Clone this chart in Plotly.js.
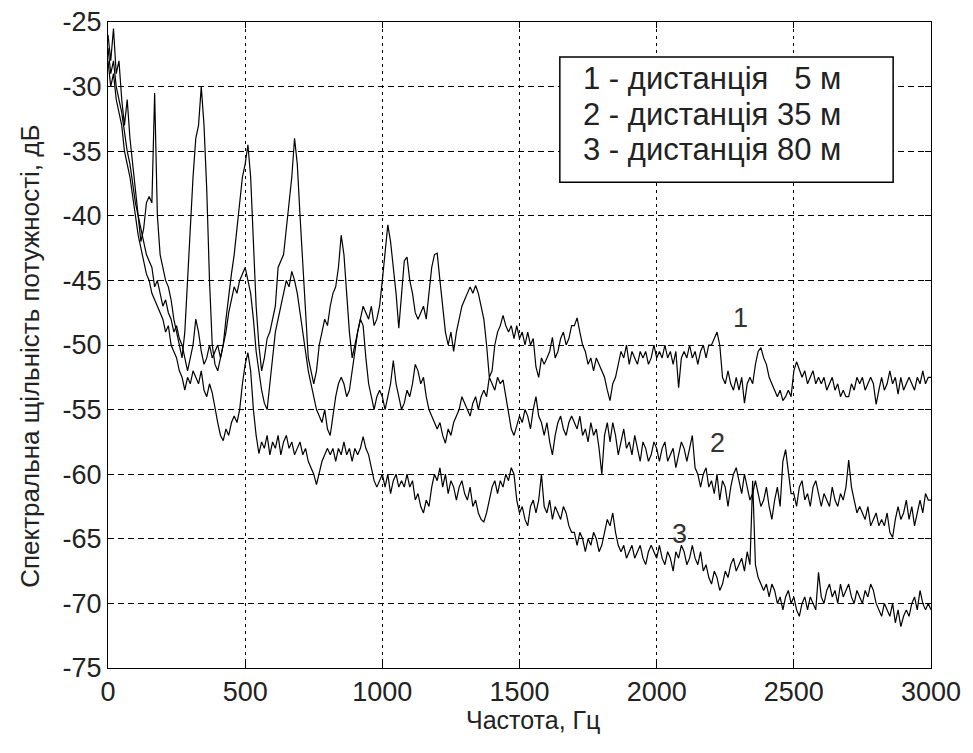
<!DOCTYPE html>
<html>
<head>
<meta charset="utf-8">
<script src="https://cdn.plot.ly/plotly-3.0.1.min.js"></script>
<style>html,body{margin:0;padding:0;background:#fff;}#chart{width:973px;height:753px;}</style>
</head>
<body>
<div id="chart"></div>
<script>
// Frequency grid, Hz (0 .. 3000 every 10 Hz)
const freqStart = 0, freqStep = 10, freqCount = 301;
const freq = [];
for (let i = 0; i < freqCount; i++) freq.push(freqStart + i * freqStep);

// Series 1: distance 5 m (dB)
const psd5m = [
 -26,-28,-25.5,-29,-28,-31,-33,-31,-34,-36,
 -38,-40,-42,-41,-39,-38.5,-39,-30.5,-40,-43,
 -44,-45,-45.5,-46.5,-48,-49,-50,-51,-49,-45,
 -40,-37,-34,-33,-30,-33,-38,-45,-50,-51.5,
 -52,-51,-50,-48,-46,-44.5,-43,-41,-39,-37,
 -36,-34.5,-37,-42,-47,-50,-52,-51,-49.5,-49,
 -48,-47,-44,-43.5,-43,-41,-39,-37,-34,-36,
 -40,-44,-48,-51,-52,-53,-52,-50,-49,-48,
 -48.5,-47,-46,-45.5,-44,-41.5,-43,-46,-49,-51,
 -50,-49,-48,-47,-47.5,-48,-47,-48.5,-48,-47,
 -45,-43,-40.7,-42,-44,-46,-48.7,-46,-43.5,-43.2,
 -45,-46,-47.5,-48,-47.5,-47,-48,-46,-44,-43,
 -42.9,-45,-47,-49,-50,-49,-50.5,-49,-48,-47,
 -46.5,-46,-45.5,-46,-45.4,-46,-47,-48,-50,-52.5,
 -52,-50,-49,-48.5,-47.7,-48.5,-49,-48.5,-49.5,-48.5,
 -49.5,-49,-50,-49,-50,-49.5,-51.7,-52.5,-51,-51.5,
 -51,-50.5,-49.4,-51,-50.5,-49.5,-49,-50,-49.5,-48.5,
 -48.5,-47.9,-49,-50,-50.5,-51.5,-51,-52,-51,-51.5,
 -52,-52.5,-53.5,-54.3,-53,-52.5,-51.5,-50.5,-51,-50,
 -51.5,-50.5,-51,-51.5,-50.5,-51,-50.5,-51.5,-51,-50,
 -51,-50.5,-51,-50,-51,-50.5,-51.5,-50.5,-53.3,-51,
 -50.5,-51,-50,-51,-50.5,-51.5,-50.5,-50,-51,-50,
 -50,-49.5,-49,-50,-52.5,-53,-52,-53,-53.5,-52.5,
 -53.5,-52.5,-54.5,-53,-52.5,-53,-51.5,-50.5,-50.2,-51,
 -51.5,-52.5,-53,-53.5,-54,-53.5,-54.3,-54,-53.5,-54,
 -52,-51.3,-52,-52.5,-52,-53,-52.5,-52,-53,-52.5,
 -53,-52.5,-53.5,-53,-52.5,-53.5,-53,-54,-53.5,-54,
 -54,-53,-53.5,-52.5,-53,-52.5,-53.5,-53,-52.5,-53,
 -54.6,-53.5,-52.5,-53.5,-53,-52,-53,-52.5,-53.8,-52.5,
 -53.5,-53,-52.5,-53,-53.5,-52.5,-53,-52,-53,-52.5,
 -52.5
];

// Series 2: distance 35 m (dB)
const psd35m = [
 -27,-29,-28,-30,-31,-32,-33.5,-35,-36,-37.5,
 -39,-40,-41,-42,-43,-43.5,-44,-45.5,-45,-46,
 -47,-46.5,-47.5,-48,-49,-48.5,-49.5,-50,-51,-52,
 -51,-50,-48,-49,-50.5,-51.5,-51,-50,-51,-50.5,
 -50,-51,-50,-49,-47.5,-46.5,-45.5,-46,-45,-44.5,
 -44,-45,-46,-48,-50.5,-52,-53.5,-54.5,-55,-53,
 -51,-49,-48,-47,-46,-45,-45.5,-44.3,-45,-46,
 -47.5,-49,-50.5,-52,-53,-54,-55,-55.5,-56,-55,
 -56.5,-57,-55.5,-54,-53,-52.5,-53,-54,-53.5,-52,
 -50.5,-49,-48,-48.5,-51,-53,-54,-55,-54,-53.5,
 -54,-55,-54,-53,-51.2,-53,-54,-55,-54.5,-53.5,
 -54,-53,-51.5,-52,-53,-52.5,-54,-55,-55.5,-56,
 -56.5,-56,-57,-57.6,-56.5,-57,-56,-55.5,-55,-54,
 -54.5,-55,-55.5,-54.5,-54,-55,-54,-53.5,-54,-52.5,
 -53,-53.5,-52.5,-53,-52.7,-54,-55.5,-56.5,-57,-56.3,
 -55.5,-56,-55,-55.5,-56.5,-55,-54,-55.5,-56,-57,
 -56,-57.5,-58.5,-57,-56,-55.5,-56.5,-57,-56,-55.5,
 -56,-56.5,-55.5,-57,-56.5,-57.5,-56,-57,-56.5,-58,
 -60,-57,-56,-57.5,-56,-57,-58.5,-57.5,-56.5,-58,
 -57.5,-58.5,-57,-58,-59,-57.5,-58,-59,-58.5,-57.5,
 -58,-59,-58,-57.5,-59,-58.5,-58,-59.5,-58.5,-57.5,
 -58,-59,-58,-57,-59.5,-60,-61,-60,-59.5,-61,
 -60.5,-61.5,-60,-62,-60.5,-61,-62.5,-61,-60,-59.5,
 -60.5,-61.5,-60,-61,-62,-61.5,-60.5,-61.5,-62.5,-62,
 -61,-62.5,-63.5,-62,-61,-62.5,-59,-58.1,-60,-61.5,
 -61.5,-62.5,-61,-60.5,-62,-61.5,-62.5,-61,-60.5,-61.5,
 -62.5,-61.5,-62,-62.5,-61,-62,-62.5,-61.5,-62,-61,
 -58.9,-61,-62,-63,-62.5,-63,-63.5,-62.5,-64,-63.5,
 -63,-64,-63.5,-64,-63,-64.5,-64.9,-63.5,-62.5,-63.5,
 -63,-62,-63.5,-62.5,-64,-63,-62,-63,-61.5,-62,
 -62
];

// Series 3: distance 80 m (dB)
const psd80m = [
 -28,-30,-29,-31,-32,-33,-35,-36,-37,-38.5,
 -40,-41.5,-42.5,-43.5,-44.5,-45,-46,-46.5,-47,-47.5,
 -48,-49,-48.5,-50,-50.5,-51,-52,-52.5,-53.5,-52.5,
 -53,-52,-52.5,-53,-52,-53.5,-54,-53,-53.7,-55,
 -56,-57,-57.4,-56.5,-57,-56,-55.5,-56,-55,-53,
 -51.5,-50.6,-52,-55,-57,-58.4,-57.5,-58,-57,-58.5,
 -57.5,-58,-57,-58.5,-57.5,-57,-58,-57.5,-58.5,-58,
 -57.5,-58.5,-58,-59,-59.5,-60,-60.8,-60,-59,-58.5,
 -58,-58.5,-58,-59,-58,-58.5,-57.5,-58.5,-58,-59,
 -58,-58.5,-58,-57.1,-58,-58.5,-59.5,-60.5,-61,-60.5,
 -60,-61,-60,-61.5,-60.5,-60,-61,-60.5,-61,-60,
 -61,-60.5,-62,-61.5,-62.5,-63,-62,-62.5,-61,-60,
 -60.5,-59.5,-61,-60,-61.5,-60.5,-61,-62,-61,-60.5,
 -61.5,-62,-61,-62.5,-62,-63,-63.5,-63.7,-63,-62,
 -61,-60.5,-61.5,-60.5,-61,-60,-60.5,-59.5,-60,-62,
 -63,-62.5,-63.5,-64,-62.5,-62,-63,-62,-60,-62.5,
 -63,-62,-63.5,-62.5,-63,-63.5,-62.5,-63,-64,-64.5,
 -64.5,-65.5,-64.5,-65,-66,-65,-65.5,-64.5,-65,-66,
 -65.5,-64.5,-63.5,-64,-63,-64.5,-65.5,-66,-65.5,-66.5,
 -66,-65.5,-66.5,-66,-65.5,-66.5,-67,-66,-65.5,-66,
 -66.5,-65.5,-66.5,-67,-66,-66.5,-67.5,-66,-66.5,-65.5,
 -66,-67,-66.5,-65.5,-66.5,-67,-66,-67.5,-67,-68,
 -68.5,-67.5,-68,-69,-68.5,-67.5,-68,-67,-66.5,-67.5,
 -67,-66.5,-67.5,-66,-67,-60.5,-67,-68,-68.5,-69,
 -68.5,-69.5,-68.5,-69,-70,-69.5,-70.5,-69.5,-69,-70,
 -69.5,-70.5,-71,-70,-69.5,-70.5,-69.5,-70,-70.5,-67.6,
 -69.5,-70,-69,-68.5,-69.5,-69,-70,-68.5,-69.5,-69,
 -68.5,-69.5,-70,-69,-69.5,-70,-69,-69.5,-68.5,-69,
 -70,-70.5,-71,-70,-70.5,-71,-70,-71.5,-70.5,-71.8,
 -71,-70.5,-71,-70,-69.5,-70.5,-69,-70,-70.5,-70,
 -70.5
];

const legendLines = ["1 - дистанція \u00A0 5 м", "2 - дистанція 35 м", "3 - дистанція 80 м"];
const curveLabels = ["1", "2", "3"];
const curveLabelFreq = [2304, 2220, 2085];
const curveLabelDb = [-47.9, -57.6, -64.6];
const xTickVals = [0, 500, 1000, 1500, 2000, 2500, 3000];
const xTickText = ["0", "500", "1000", "1500", "2000", "2500", "3000"];
const yTickVals = [-75, -70, -65, -60, -55, -50, -45, -40, -35, -30, -25];
const yTickText = ["-75", "-70", "-65", "-60", "-55", "-50", "-45", "-40", "-35", "-30", "-25"];
const xTitle = "Частота, Гц";
const yTitle = "Спектральна щільність потужності, дБ";

const FONT = "Liberation Sans, Arial, sans-serif";
const TXT = "#222";
const lineStyle = {color: "#000", width: 1.2};

const traces = [psd5m, psd35m, psd80m].map((ys, i) => ({
  x: freq, y: ys, type: "scatter", mode: "lines", line: lineStyle,
  name: legendLines[i], showlegend: false, hoverinfo: "skip"
}));

const annotations = [];
legendLines.forEach((t, i) => {
  annotations.push({
    xref: "paper", yref: "paper", x: 0.575, y: [0.912, 0.857, 0.803][i],
    xanchor: "left", yanchor: "middle", showarrow: false, text: t,
    font: {family: FONT, size: 31, color: TXT}
  });
});
curveLabels.forEach((t, i) => {
  annotations.push({
    x: curveLabelFreq[i], y: curveLabelDb[i], xref: "x", yref: "y",
    showarrow: false, text: t, font: {family: FONT, size: 27, color: "#333"}
  });
});
// axis titles placed as in the reference
annotations.push({
  xref: "paper", yref: "paper", x: 0.516, y: -0.081, xanchor: "center", yanchor: "middle",
  showarrow: false, text: xTitle, font: {family: FONT, size: 25, color: TXT}
});
annotations.push({
  xref: "paper", yref: "paper", x: -0.095, y: 0.483, xanchor: "center", yanchor: "middle",
  textangle: -90, showarrow: false, text: yTitle, font: {family: FONT, size: 26, color: TXT}
});

const layout = {
  width: 973, height: 753,
  margin: {l: 108, r: 42, t: 22, b: 85},
  paper_bgcolor: "#fff", plot_bgcolor: "#fff",
  font: {family: FONT, size: 27, color: TXT},
  xaxis: {
    range: [0, 3000], tickmode: "array", tickvals: xTickVals, ticktext: xTickText,
    ticks: "inside", ticklen: 6,
    tickcolor: "#000", showline: true, linecolor: "#000", linewidth: 1, mirror: "ticks",
    showgrid: true, gridcolor: "#000", gridwidth: 1, griddash: "3px,4px",
    zeroline: false, tickfont: {family: FONT, size: 27, color: TXT}
  },
  yaxis: {
    range: [-75, -25], tickmode: "array", tickvals: yTickVals, ticktext: yTickText,
    ticks: "inside", ticklen: 6,
    tickcolor: "#000", showline: true, linecolor: "#000", linewidth: 1, mirror: "ticks",
    showgrid: true, gridcolor: "#000", gridwidth: 1, griddash: "6px,4px",
    zeroline: false, tickfont: {family: FONT, size: 27, color: TXT}
  },
  shapes: [{
    type: "rect", xref: "paper", yref: "paper", x0: 0.549, x1: 0.954, y0: 0.752, y1: 0.946,
    line: {color: "#000", width: 1.5}, fillcolor: "#fff", layer: "above"
  }],
  annotations: annotations
};

Plotly.newPlot("chart", traces, layout, {displayModeBar: false, staticPlot: true});
</script>
</body>
</html>
